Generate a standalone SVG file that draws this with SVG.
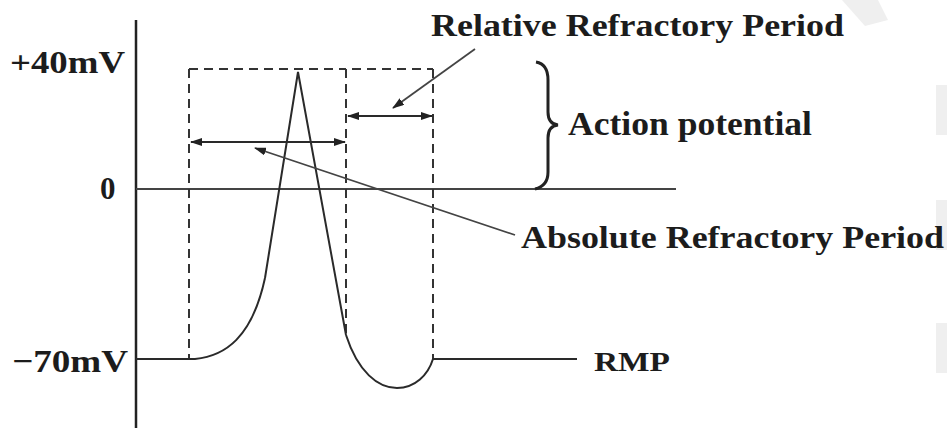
<svg xmlns="http://www.w3.org/2000/svg" width="947" height="428" viewBox="0 0 947 428">
<style>
.t{font-family:"Liberation Serif","Times New Roman",serif;font-weight:bold;fill:#1c1c1c}
.ln{fill:none;stroke:#2a2a2a;stroke-width:2}
.dash{fill:none;stroke:#333;stroke-width:2;stroke-dasharray:9 6}
.ptr{fill:none;stroke:#444;stroke-width:1.8}
.wm{fill:#efefef}
</style>
<defs>
<marker id="ah" viewBox="0 0 12 8" refX="11" refY="4" markerWidth="12" markerHeight="8" markerUnits="userSpaceOnUse" orient="auto-start-reverse">
<path d="M0,0 L12,4 L0,8 Z" fill="#222"/>
</marker>
</defs>
<rect width="947" height="428" fill="#fff"/>
<g id="watermark">
<rect class="wm" x="936" y="85" width="11" height="50"/>
<rect class="wm" x="936" y="200" width="11" height="50"/>
<rect class="wm" x="936" y="323" width="11" height="50"/>
<path class="wm" d="M842 0 L878 0 L888 20 L865 26 Z"/>
</g>
<g id="axes">
<line x1="136" y1="20" x2="136" y2="428" stroke="#222" stroke-width="2.5"/>
<line x1="136" y1="189" x2="676" y2="189" stroke="#444" stroke-width="2"/>
</g>
<g id="guides">
<line class="dash" x1="189" y1="69" x2="346" y2="69"/>
<line class="dash" x1="352" y1="69" x2="433" y2="69"/>
<line class="dash" x1="189" y1="69" x2="189" y2="359"/>
<line class="dash" x1="346" y1="69" x2="346" y2="335" stroke-width="3.5" stroke-dasharray="7 3"/>
<line class="dash" x1="433" y1="69" x2="433" y2="359"/>
</g>
<g id="trace">
<path class="ln" d="M136 359 L195 359 C225 356 252 338 265 278"/>
<path class="ln" d="M265 278 L298 72 L346 335" stroke-width="3" stroke-linejoin="miter"/>
<path class="ln" d="M346 335 C358 372 378 388 397 388 C415 388 428 375 433 359 L577 359"/>
</g>
<g id="connectors">
<line class="ln" x1="191" y1="142" x2="345" y2="142" marker-start="url(#ah)" marker-end="url(#ah)"/>
<line class="ln" x1="348" y1="116" x2="432" y2="116" marker-start="url(#ah)" marker-end="url(#ah)"/>
<line class="ptr" x1="475" y1="49" x2="393" y2="108" marker-end="url(#ah)"/>
<line class="ptr" x1="515" y1="235" x2="255" y2="148" marker-end="url(#ah)"/>
</g>
<g id="brace">
<path d="M536 62 Q548 64 548 80 L548 112 Q548 124 558 125 Q548 126 548 138 L548 172 Q548 186 535 189" fill="none" stroke="#222" stroke-width="3"/>
</g>
<g id="labels">
<text class="t" x="10" y="73" font-size="31" textLength="115" lengthAdjust="spacingAndGlyphs">+40mV</text>
<text class="t" x="100" y="199" font-size="31">0</text>
<text class="t" x="12" y="372" font-size="32" textLength="116" lengthAdjust="spacingAndGlyphs">−70mV</text>
<text class="t" x="431" y="36" font-size="32" textLength="413" lengthAdjust="spacingAndGlyphs">Relative Refractory Period</text>
<text class="t" x="568" y="135" font-size="33" textLength="244" lengthAdjust="spacingAndGlyphs">Action potential</text>
<text class="t" x="521" y="248" font-size="32" textLength="423" lengthAdjust="spacingAndGlyphs">Absolute Refractory Period</text>
<text class="t" x="594" y="371" font-size="28" textLength="76" lengthAdjust="spacingAndGlyphs">RMP</text>
</g>
</svg>
